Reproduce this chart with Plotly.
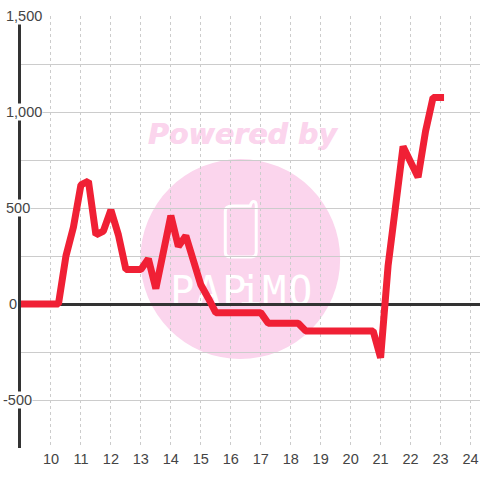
import plotly.graph_objects as go

hours = [9, 10.25, 10.5, 10.75, 11, 11.25, 11.5, 11.75, 12, 12.25, 12.5, 13, 13.25, 13.5, 14, 14.25, 14.5,
         14.75, 15, 15.25, 15.5, 17, 17.25, 18.25, 18.5, 20.75, 21, 21.25, 21.75, 22.25, 22.5, 22.75, 23]
values = [0, 0, 250, 400, 620, 640, 360, 380, 490, 360, 180, 180, 235, 80, 460, 300, 355,
          230, 100, 30, -45, -45, -100, -100, -140, -140, -280, 200, 820, 660, 900, 1075, 1075]
x_ticks = list(range(10, 25))
y_labels = [(1500, "1,500", 4.5), (1000, "1,000", 4.5), (500, "500", 4.5), (0, "0", 7), (-500, "-500", 1)]
logo_letters = [("P", 182), ("A", 208), ("P", 234), ("i", 250), ("M", 274), ("O", 300)]

W, H = 480, 480
L, R, T, B = 20.5, 0, 16, 32
PW, PH = W - L - R, H - T - B
PINK = "#fbd5ed"
GRID = "#cccccc"
TEXT = "#444444"


def px(x):
    return (x - L) / PW


def py(y):
    return 1 - (y - T) / PH


def box(x0, y0, x1, y1, **kw):
    return dict(type="rect", xref="paper", yref="paper", x0=px(x0), x1=px(x1), y0=py(y1), y1=py(y0),
                layer="below", **kw)


shapes = [
    dict(type="circle", xref="paper", yref="paper", x0=px(140), x1=px(340), y0=py(359), y1=py(159),
         fillcolor=PINK, line_width=0, layer="below"),
    dict(type="path", xref="paper", yref="paper", layer="below", line=dict(color="white", width=3),
         path="M {} {} L {} {} Q {} {} {} {} Q {} {} {} {} L {} {} Q {} {} {} {} L {} {} Q {} {} {} {} L {} {} Q {} {} {} {} Z".format(
             px(232), py(206), px(250), py(206), px(251), py(201.5), px(253.5), py(201.5), px(256), py(201.5),
             px(256), py(206), px(256), py(252), px(256), py(257), px(251), py(257), px(230), py(257),
             px(225), py(257), px(225), py(252), px(225), py(211), px(225), py(206), px(232), py(206))),
    box(148, 115, 336, 149, line_width=0, fillcolor="rgba(0,0,0,0)",
        label=dict(text="Powered by", textposition="middle center",
                   font=dict(family="DejaVu Sans", size=28.5, color=PINK, weight="bold", style="italic",
                             shadow="0.6px 0 0 #fbd5ed"))),
]
for ch, cx in logo_letters:
    shapes.append(box(cx - 14, 268, cx + 14, 308, line_width=0, fillcolor="rgba(0,0,0,0)",
                      label=dict(text=ch, textposition="middle center",
                                 font=dict(family="DejaVu Sans Mono", size=40, color="white"))))

annotations = [
    dict(x=px(x0), xref="paper", y=v, yref="y", text=t, showarrow=False, xanchor="left", yanchor="middle",
         bgcolor="white", borderpad=0, font=dict(family="Liberation Sans", size=14.5, color=TEXT))
    for v, t, x0 in y_labels
]

fig = go.Figure(go.Scatter(x=hours, y=values, mode="lines", cliponaxis=False,
                           line=dict(color="#f02035", width=7), hoverinfo="skip"))
fig.update_layout(
    width=W, height=H, margin=dict(l=L, r=R, t=T, b=B, pad=0),
    paper_bgcolor="white", plot_bgcolor="rgba(0,0,0,0)", showlegend=False,
    shapes=shapes, annotations=annotations,
    xaxis=dict(range=[9, 9 + PW / 30], tickmode="array", tickvals=x_ticks, ticks="", showline=False,
               showgrid=True, gridcolor=GRID, griddash="3px,3px", gridwidth=1, zeroline=False, layer="below traces",
               tickfont=dict(family="Liberation Sans", size=14.5, color=TEXT)),
    yaxis=dict(range=[-750, 1500], dtick=250, tick0=0, showticklabels=False, ticks="", layer="below traces",
               showgrid=True, gridcolor=GRID, gridwidth=1,
               zeroline=True, zerolinecolor="#333333", zerolinewidth=3,
               showline=True, linecolor="#333333", linewidth=3),
)
post = """
document.documentElement.style.overflow='hidden';
document.body.style.margin='0';
function bevel(){
  document.querySelectorAll('path.js-line').forEach(function(p){
    p.style.setProperty('stroke-linejoin','bevel','important');
    p.style.setProperty('stroke-linecap','square','important');
  });
  document.querySelectorAll('.cartesianlayer .plot, .scatterlayer, .scatterlayer .trace').forEach(function(g){
    g.removeAttribute('clip-path');
    g.style.setProperty('clip-path','none','important');
  });
}
bevel();setTimeout(bevel,50);setTimeout(bevel,300);
"""
fig.write_html("out.html", post_script=post, config=dict(displayModeBar=False))
